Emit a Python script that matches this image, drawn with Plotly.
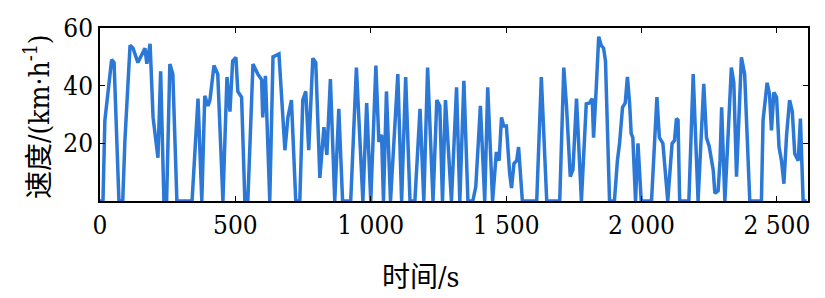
import plotly.graph_objects as go

time_s = [0, 11, 18, 43, 52, 70, 84, 92, 111, 122, 140, 166, 173, 185, 196, 214, 224, 236, 246, 258, 269, 284,
          340, 362, 376, 387, 399, 406, 421, 435, 454, 469, 480, 490, 502, 509, 523, 535, 546, 565, 583, 597, 601,
          611, 627, 639, 661, 683, 694, 707, 723, 738, 749, 760, 771, 786, 797, 812, 827, 838, 851, 867, 882, 896,
          926, 947, 971, 985, 1000, 1019, 1030, 1040, 1047, 1058, 1073, 1100, 1114, 1129, 1145, 1163, 1182, 1196,
          1210, 1230, 1244, 1255, 1265, 1276, 1298, 1317, 1329, 1344, 1359, 1377, 1388, 1405, 1421, 1432, 1450,
          1464, 1474, 1483, 1491, 1501, 1513, 1520, 1529, 1539, 1546, 1560, 1613, 1630, 1650, 1698, 1713, 1723,
          1737, 1747, 1760, 1778, 1796, 1808, 1818, 1823, 1833, 1842, 1851, 1860, 1867, 1882, 1900, 1911, 1919,
          1930, 1940, 1948, 1956, 1962, 1968, 1978, 1987, 1999, 2037, 2057, 2066, 2073, 2079, 2097, 2113, 2122,
          2129, 2135, 2141, 2175, 2191, 2209, 2230, 2240, 2250, 2265, 2271, 2283, 2290, 2296, 2308, 2332, 2341,
          2351, 2369, 2381, 2400, 2443, 2449, 2464, 2473, 2480, 2489, 2499, 2508, 2517, 2526, 2536, 2547, 2557,
          2566, 2579, 2587, 2597, 2610]
speed_kmh = [0, 0, 28, 49, 48, 0, 0, 21, 54, 53, 48, 53, 47.6, 54.5, 29, 15, 45, 0, 0, 47.5, 44, 0,
             0, 35.5, 0, 36.5, 33, 35, 47, 44, 0, 43, 31, 48.6, 49.8, 38, 36, 0, 0, 47.5, 44, 42, 29,
             43.4, 0, 50, 51, 17.6, 29, 35, 0, 0, 35, 38, 17.6, 49.5, 48, 8, 25.6, 16, 42.3, 0, 32, 0,
             0, 46.3, 0, 34, 0, 47, 20.5, 23, 0, 38, 0, 44, 0, 43, 0, 0, 32, 0,
             46.3, 0, 35, 33, 0, 35, 0, 39.4, 0, 41.7, 0, 0, 5, 33, 0, 39.4, 0,
             17, 14, 29, 26, 26, 9.6, 4.5, 13, 14, 18.7, 0, 0, 43, 0, 0, 46.3, 33,
             8.4, 11, 35.5, 0, 33.7, 34, 35.5, 22, 39.4, 57, 54, 53, 48.6, 0, 0, 14, 20,
             32.5, 34, 43, 34, 23.4, 22, 0, 20, 0, 0, 36, 22, 21, 20, 0, 20, 21,
             28.6, 28, 0, 0, 44, 0, 40.6, 22, 19, 10.7, 2.7, 3.5, 14, 32.5, 0, 46.3, 41,
             8.4, 49.8, 44, 0, 0, 28, 41, 37, 24.5, 37.7, 36, 18.7, 14, 6, 23, 35, 31,
             16.4, 14, 28.6, 0, 0]

x_tickvals = [0, 500, 1000, 1500, 2000, 2500]
x_ticktext = ["0", "500", "1 000", "1 500", "2 000", "2 500"]
y_tickvals = [20, 40, 60]
y_ticktext = ["20", "40", "60"]

SERIF = "DejaVu Serif Condensed, DejaVu Serif"
TITLE_FONT = "DejaVu Serif Condensed, DejaVu Serif, Noto Sans CJK SC"

fig = go.Figure()
fig.add_trace(go.Scatter(x=time_s, y=speed_kmh, mode="lines",
                         line=dict(color="#2b78d6", width=3.5), showlegend=False))

axis_common = dict(showline=True, linecolor="black", linewidth=1.5, mirror="ticks",
                   ticks="inside", ticklen=5, tickwidth=1.2, tickcolor="black",
                   showgrid=False, zeroline=False,
                   tickfont=dict(family=SERIF, size=26, color="black"))

fig.update_xaxes(range=[0, 2615], tickvals=x_tickvals, ticktext=x_ticktext, **axis_common)
fig.update_yaxes(range=[0, 60], tickvals=y_tickvals, ticktext=y_ticktext, **axis_common)

fig.add_annotation(text="时间/s", xref="paper", yref="paper", x=(420 - 100) / 708, y=-(277 - 201) / 173,
                   showarrow=False, xanchor="center", yanchor="middle",
                   font=dict(family=TITLE_FONT, size=28, color="black"))
fig.add_annotation(text="速度/(km·h<sup>-1</sup>)", xref="paper", yref="paper",
                   x=-(100 - 37) / 708, y=(201 - 117) / 173, textangle=-90,
                   showarrow=False, xanchor="center", yanchor="middle",
                   font=dict(family=TITLE_FONT, size=28, color="black"))

fig.update_layout(width=825, height=298, margin=dict(l=100, r=17, t=28, b=97),
                  paper_bgcolor="white", plot_bgcolor="white",
                  font=dict(family=SERIF, color="black"))

fig.write_html("out.html")
